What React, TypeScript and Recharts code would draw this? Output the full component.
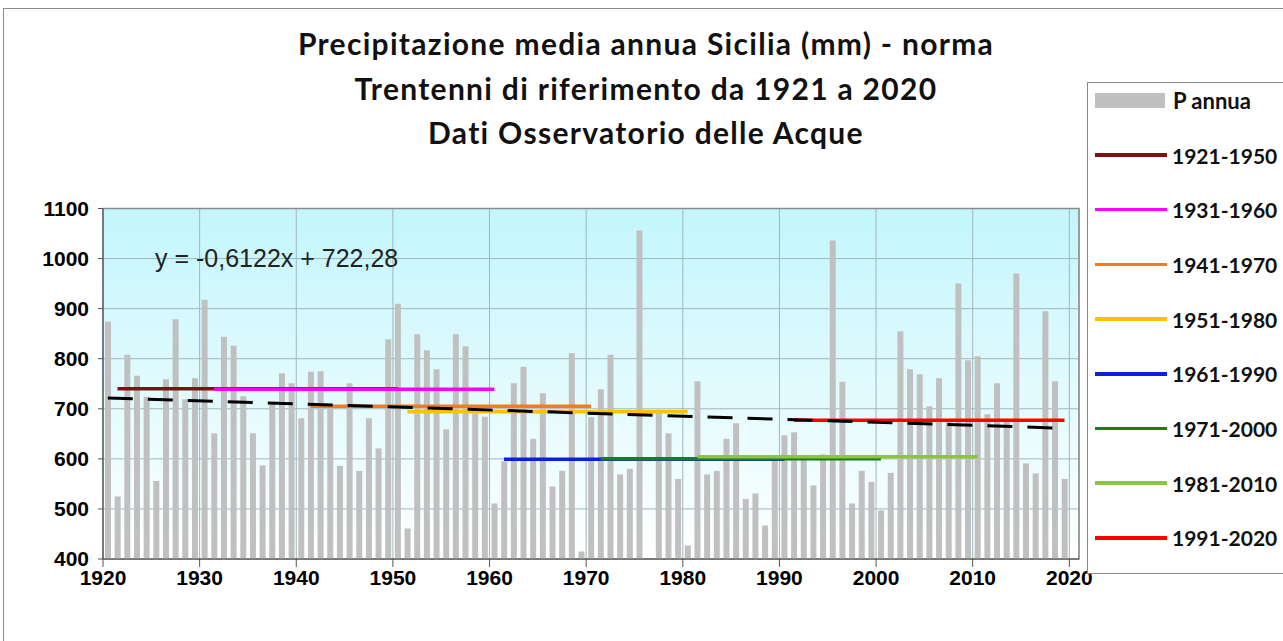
import { ComposedChart, Bar, Line, XAxis, YAxis, CartesianGrid, ReferenceArea } from 'recharts';

// Precipitazione annua Sicilia (mm), primo anno 1920
const firstYear = 1920;
const precip: (number | null)[] = [
  874, 525, 808, 766, 724, 556, 759, 879, 719, 761,
  918, 651, 844, 826, 725, 651, 587, 709, 771, 751,
  681, 774, 775, 700, 586, 751, 576, 681, 621, 839,
  910, 461, 849, 817, 779, 659, 849, 825, 691, 684,
  511, 595, 751, 784, 640, 731, 545, 576, 811, 415,
  683, 739, 808, 569, 580, 1056, null, 698, 651, 560,
  427, 755, 569, 576, 640, 671, 520, 531, 467, 600,
  647, 653, 598, 547, 609, 1036, 754, 511, 576, 554,
  497, 572, 855, 779, 769, 705, 761, 676, 950, 797,
  805, 689, 751, 678, 970, 591, 571, 895, 755, 560,
];

// norme trentennali
const periodLabels = ['1921-1950', '1931-1960', '1941-1970', '1951-1980', '1961-1990', '1971-2000', '1981-2010', '1991-2020'];
const periodStart = [1921, 1931, 1941, 1951, 1961, 1971, 1981, 1991];
const periodEnd = [1950, 1960, 1970, 1980, 1990, 2000, 2010, 2020];
const periodMean = [740, 739, 705, 694, 599, 600, 604, 677];
const periodColors = ['#7f1010', '#ff00ff', '#f57b20', '#ffc000', '#0a1ee6', '#1b7d1b', '#8cc63f', '#ff0000'];

// retta di tendenza y = -0,6122x + 722,28 (valori al primo e all'ultimo anno)
const trendEnds = [721.7, 661.1];

const xTicks = [1920, 1930, 1940, 1950, 1960, 1970, 1980, 1990, 2000, 2010, 2020];
const yTicks = [400, 500, 600, 700, 800, 900, 1000, 1100];

const titleLines = [
  'Precipitazione media annua Sicilia (mm) - norma',
  'Trentenni di riferimento da 1921 a 2020',
  'Dati Osservatorio delle Acque',
];

const chartData = precip.map((p, i) => {
  const year = firstYear + i;
  const row: Record<string, number | null> = { x: year + 0.5, p };
  periodStart.forEach((s, j) => {
    row[`n${j}`] = year >= s && year <= periodEnd[j] ? periodMean[j] : null;
  });
  row.trend = i === 0 ? trendEnds[0] : i === precip.length - 1 ? trendEnds[1] : null;
  return row;
});

const axisTick = { fontSize: 21, fontWeight: 700, fill: '#000', fontFamily: '"Liberation Sans", Arial, sans-serif' };
const calibri = 'Lato, "Open Sans", sans-serif';

export default function App() {
  return (
    <div style={{ position: 'absolute', left: 0, top: 0, width: 1283, height: 641, overflow: 'hidden', background: '#fff' }}>
      <div style={{ position: 'absolute', left: 3, top: 8, width: 1300, height: 700, border: '1.5px solid #8c8c8c' }} />
      {titleLines.map((t, i) => (
        <div
          key={t}
          style={{
            position: 'absolute', left: 0, width: 1292, top: 28 + i * 44.5, textAlign: 'center',
            fontFamily: calibri, fontWeight: 700, fontSize: 30, letterSpacing: 1.3, lineHeight: 1, color: '#111',
          }}
        >
          {t}
        </div>
      ))}
      <div style={{ position: 'absolute', left: 0, top: 0 }}>
        <ComposedChart width={1283} height={641} data={chartData} margin={{ top: 208.5, right: 204, bottom: 52, left: 43 }}>
          <defs>
            <linearGradient id="plotBg" x1="0" y1="0" x2="0" y2="1">
              <stop offset="0%" stopColor="#c2f6fc" />
              <stop offset="100%" stopColor="#ffffff" />
            </linearGradient>
          </defs>
          <CartesianGrid stroke="#9fb6be" fill="url(#plotBg)" fillOpacity={1} />
          <XAxis
            type="number"
            dataKey="x"
            domain={[1920, 2021]}
            ticks={xTicks}
            interval={0}
            allowDataOverflow
            height={30}
            tickSize={8}
            tickMargin={3}
            tick={axisTick}
            axisLine={{ stroke: '#555' }}
            tickLine={{ stroke: '#555' }}
          />
          <YAxis
            type="number"
            domain={[400, 1100]}
            ticks={yTicks}
            interval={0}
            allowDataOverflow
            width={60}
            tickSize={5}
            tickMargin={9}
            tick={axisTick}
            axisLine={{ stroke: '#555' }}
            tickLine={{ stroke: '#555' }}
          />
          <Bar dataKey="p" fill="#c0c0c0" barSize={6} isAnimationActive={false} />
          {periodLabels.map((label, j) => (
            <Line
              key={label}
              dataKey={`n${j}`}
              name={label}
              stroke={periodColors[j]}
              strokeWidth={3.5}
              dot={false}
              activeDot={false}
              isAnimationActive={false}
            />
          ))}
          <Line
            dataKey="trend"
            stroke="#000"
            strokeWidth={3}
            strokeDasharray="25 15"
            connectNulls
            dot={false}
            activeDot={false}
            isAnimationActive={false}
          />
          <ReferenceArea x1={1920} x2={2021} y1={400} y2={1100} fill="none" stroke="#8a8a8a" strokeWidth={1.5} ifOverflow="visible" />
        </ComposedChart>
      </div>
      <div
        style={{
          position: 'absolute', left: 155, top: 246, fontFamily: '"Liberation Sans", Arial, sans-serif',
          fontSize: 25, lineHeight: 1, color: '#222', whiteSpace: 'nowrap',
        }}
      >
        y = -0,6122x + 722,28
      </div>
      {/* legenda */}
      <div style={{ position: 'absolute', left: 1087, top: 82, width: 220, height: 490, border: '1.5px solid #8a8a8a', background: '#fff' }}>
        <div style={{ position: 'absolute', left: 7, top: 10, width: 70, height: 15, background: '#c0c0c0' }} />
        <div style={{ position: 'absolute', left: 85, top: 7, fontFamily: calibri, fontWeight: 700, fontSize: 22, lineHeight: 1, color: '#111' }}>
          P annua
        </div>
        {periodLabels.map((label, j) => (
          <div key={label} style={{ position: 'absolute', left: 7, top: 72 + j * 54.7 - 11, height: 22, display: 'flex', alignItems: 'center' }}>
            <div style={{ width: 72, height: 3.5, background: periodColors[j] }} />
            <div style={{ marginLeft: 5, fontFamily: calibri, fontWeight: 700, fontSize: 21, lineHeight: 1, color: '#111' }}>{label}</div>
          </div>
        ))}
      </div>
    </div>
  );
}
